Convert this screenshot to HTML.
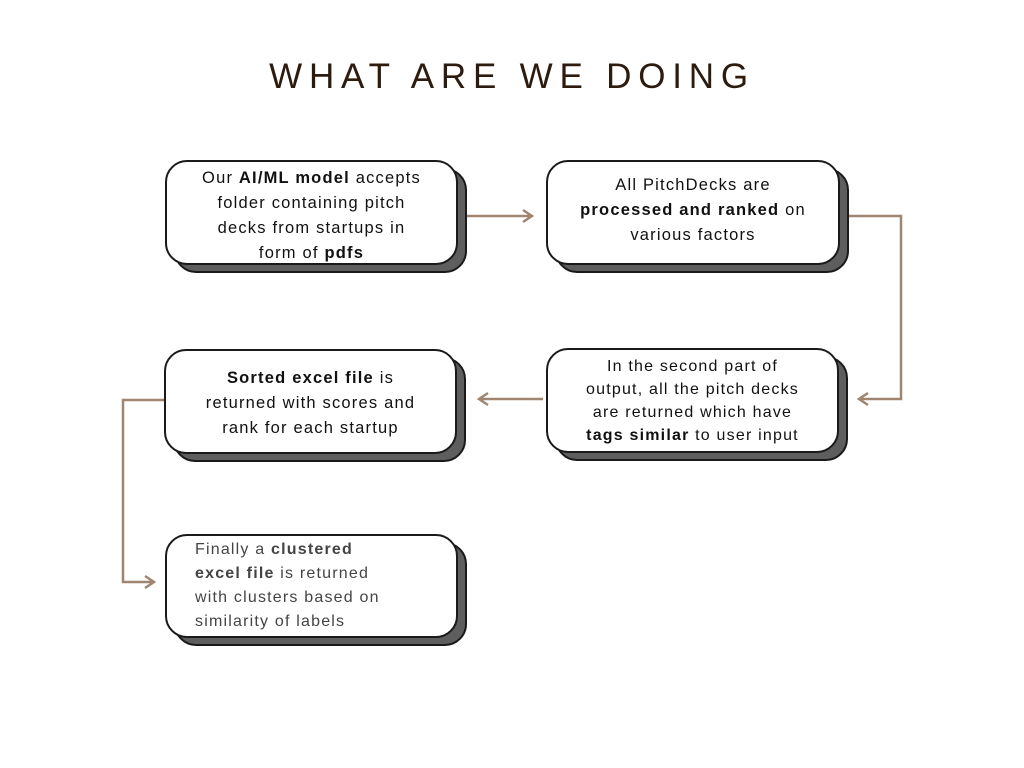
<!DOCTYPE html>
<html><head><meta charset="utf-8"><style>
body{margin:0;width:1024px;height:768px;background:#fff;position:relative;overflow:hidden;font-family:"Liberation Sans",sans-serif;}
.t{position:absolute;left:0;width:1024px;top:57px;text-align:center;font-size:35px;letter-spacing:6.8px;color:#2d1b0e;}
.sh{position:absolute;background:#5e5e5e;border:2px solid #1a1a1a;border-radius:22px;box-sizing:border-box;}
.bx{position:absolute;background:#fff;border:2px solid #1a1a1a;border-radius:22px;box-sizing:border-box;display:flex;align-items:center;justify-content:center;text-align:center;font-size:16.5px;letter-spacing:1.2px;line-height:25px;color:#111;}
.bx>div{white-space:nowrap}
b{font-weight:bold}
</style></head><body>
<div class="t">WHAT ARE WE DOING</div>
<svg width="1024" height="768" style="position:absolute;left:0;top:0" fill="none" stroke="#a08670" stroke-width="2.5">
<path d="M466 216H531M523 210l9 6-9 6"/>
<path d="M848 216H901V399H860M868 393l-9 6 9 6"/>
<path d="M543 399H480M488 393l-9 6 9 6"/>
<path d="M164 400H123V582H153M145 576l9 6-9 6"/>
</svg>
<div class="sh" style="left:174px;top:168px;width:293px;height:105px"></div>
<div class="bx" style="left:165px;top:160px;width:293px;height:105px;padding-top:7px"><div>Our <b>AI/ML model</b> accepts<br>folder containing pitch<br>decks from startups in<br>form of <b>pdfs</b></div></div>
<div class="sh" style="left:555px;top:168px;width:294px;height:105px"></div>
<div class="bx" style="left:546px;top:160px;width:294px;height:105px;padding-bottom:4px"><div>All PitchDecks are<br><b>processed and ranked</b> on<br>various factors</div></div>
<div class="sh" style="left:555px;top:356px;width:293px;height:105px"></div>
<div class="bx" style="left:546px;top:348px;width:293px;height:105px;line-height:23px;font-size:16px"><div>In the second part of<br>output, all the pitch decks<br>are returned which have<br><b>tags similar</b> to user input</div></div>
<div class="sh" style="left:173px;top:357px;width:293px;height:105px"></div>
<div class="bx" style="left:164px;top:349px;width:293px;height:105px;padding-top:4px"><div><b>Sorted excel file</b> is<br>returned with scores and<br>rank for each startup</div></div>
<div class="sh" style="left:174px;top:542px;width:293px;height:104px"></div>
<div class="bx" style="left:165px;top:534px;width:293px;height:104px;justify-content:flex-start;text-align:left;padding-left:28px;line-height:24px;color:#444;font-size:16px"><div>Finally a <b>clustered</b><br><b>excel file</b> is returned<br>with clusters based on<br>similarity of labels</div></div>
</body></html>
